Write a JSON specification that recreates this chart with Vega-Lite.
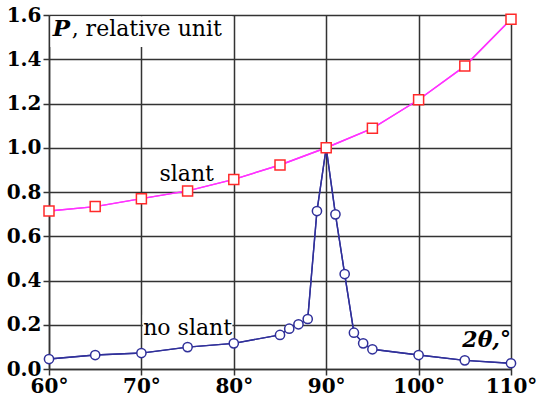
{
  "$schema": "https://vega.github.io/schema/vega-lite/v6.json",
  "width": 462,
  "height": 354,
  "autosize": "none",
  "padding": {"left": 49, "top": 15, "right": 28, "bottom": 32},
  "background": "white",
  "config": {"view": {"stroke": null}, "font": "DejaVu Serif"},
  "data": {
    "values": [
      {"series": "no slant", "angle": 60, "P": 0.045},
      {"series": "no slant", "angle": 65, "P": 0.063},
      {"series": "no slant", "angle": 70, "P": 0.072},
      {"series": "no slant", "angle": 75, "P": 0.099},
      {"series": "no slant", "angle": 80, "P": 0.116},
      {"series": "no slant", "angle": 85, "P": 0.154},
      {"series": "no slant", "angle": 86, "P": 0.182},
      {"series": "no slant", "angle": 87, "P": 0.202},
      {"series": "no slant", "angle": 88, "P": 0.226},
      {"series": "no slant", "angle": 89, "P": 0.714},
      {"series": "no slant", "angle": 90, "P": 1.0},
      {"series": "no slant", "angle": 91, "P": 0.699},
      {"series": "no slant", "angle": 92, "P": 0.429},
      {"series": "no slant", "angle": 93, "P": 0.164},
      {"series": "no slant", "angle": 94, "P": 0.116},
      {"series": "no slant", "angle": 95, "P": 0.089},
      {"series": "no slant", "angle": 100, "P": 0.063},
      {"series": "no slant", "angle": 105, "P": 0.039},
      {"series": "no slant", "angle": 110, "P": 0.026},
      {"series": "slant", "angle": 60, "P": 0.714},
      {"series": "slant", "angle": 65, "P": 0.734},
      {"series": "slant", "angle": 70, "P": 0.77},
      {"series": "slant", "angle": 75, "P": 0.805},
      {"series": "slant", "angle": 80, "P": 0.857},
      {"series": "slant", "angle": 85, "P": 0.922},
      {"series": "slant", "angle": 90, "P": 1.0},
      {"series": "slant", "angle": 95, "P": 1.088},
      {"series": "slant", "angle": 100, "P": 1.217},
      {"series": "slant", "angle": 105, "P": 1.369},
      {"series": "slant", "angle": 110, "P": 1.581}
    ]
  },
  "layer": [
    {
      "mark": {"type": "line", "strokeWidth": 1.4},
      "encoding": {
        "x": {
          "field": "angle", "type": "quantitative",
          "scale": {"domain": [60, 110], "nice": false, "zero": false},
          "axis": {
            "title": null, "values": [60, 70, 80, 90, 100, 110],
            "labelExpr": "datum.value + '°'",
            "labelFont": "DejaVu Serif", "labelFontSize": 20, "labelFontWeight": "bold", "labelColor": "black",
            "labelFlush": false, "labelOverlap": false, "labelBound": false,
            "labelPadding": 1, "labelDx": 5,
            "grid": true, "gridColor": "#333333", "gridWidth": 1.5, "gridOpacity": 1,
            "domainColor": "#333333", "domainWidth": 1.5,
            "tickColor": "#333333", "tickWidth": 1.5, "tickSize": 6
          }
        },
        "y": {
          "field": "P", "type": "quantitative",
          "scale": {"domain": [0, 1.6], "nice": false},
          "axis": {
            "title": null, "values": [0, 0.2, 0.4, 0.6, 0.8, 1.0, 1.2, 1.4, 1.6],
            "format": ".1f",
            "labelFont": "DejaVu Serif", "labelFontSize": 20, "labelFontWeight": "bold", "labelColor": "black",
            "labelFlush": false, "labelOverlap": false, "labelBound": false,
            "labelPadding": 2,
            "grid": true, "gridColor": "#333333", "gridWidth": 1.5, "gridOpacity": 1,
            "domainColor": "#333333", "domainWidth": 1.5,
            "tickColor": "#333333", "tickWidth": 1.5, "tickSize": 6
          }
        },
        "color": {
          "field": "series", "type": "nominal",
          "scale": {"domain": ["no slant", "slant"], "range": ["#30309a", "#ff33ff"]},
          "legend": null
        }
      }
    },
    {
      "data": {"values": [{"box": "title"}]},
      "mark": {"type": "rect", "fill": "white"},
      "encoding": {
        "x": {"datum": 60.15, "type": "quantitative", "scale": {"domain": [60, 110], "nice": false, "zero": false}},
        "x2": {"datum": 79.85},
        "y": {"datum": 1.455, "type": "quantitative", "scale": {"domain": [0, 1.6], "nice": false}},
        "y2": {"datum": 1.594}
      }
    },
    {
      "data": {"values": [{"box": "no slant"}]},
      "mark": {"type": "rect", "fill": "white"},
      "encoding": {
        "x": {"datum": 70.15, "type": "quantitative", "scale": {"domain": [60, 110], "nice": false, "zero": false}},
        "x2": {"datum": 79.85},
        "y": {"datum": 0.17, "type": "quantitative", "scale": {"domain": [0, 1.6], "nice": false}},
        "y2": {"datum": 0.245}
      }
    },
    {
      "mark": {"type": "line", "strokeWidth": 1.4},
      "encoding": {
        "x": {"field": "angle", "type": "quantitative", "scale": {"domain": [60, 110], "nice": false, "zero": false}},
        "y": {"field": "P", "type": "quantitative", "scale": {"domain": [0, 1.6], "nice": false}},
        "color": {
          "field": "series", "type": "nominal",
          "scale": {"domain": ["no slant", "slant"], "range": ["#30309a", "#ff33ff"]},
          "legend": null
        }
      }
    },
    {
      "transform": [{"filter": "datum.series == 'no slant'"}],
      "mark": {"type": "point", "shape": "circle", "filled": true, "fill": "white", "stroke": "#30309a", "strokeWidth": 1.5, "size": 85, "opacity": 1},
      "encoding": {
        "x": {"field": "angle", "type": "quantitative", "scale": {"domain": [60, 110], "nice": false, "zero": false}},
        "y": {"field": "P", "type": "quantitative", "scale": {"domain": [0, 1.6], "nice": false}}
      }
    },
    {
      "transform": [{"filter": "datum.series == 'slant'"}],
      "mark": {"type": "point", "shape": "square", "filled": true, "fill": "white", "stroke": "#ff2a2a", "strokeWidth": 1.5, "size": 100, "opacity": 1},
      "encoding": {
        "x": {"field": "angle", "type": "quantitative", "scale": {"domain": [60, 110], "nice": false, "zero": false}},
        "y": {"field": "P", "type": "quantitative", "scale": {"domain": [0, 1.6], "nice": false}}
      }
    },
    {
      "data": {"values": [{"label": "P"}]},
      "mark": {"type": "text", "text": "P", "font": "DejaVu Serif", "fontSize": 23, "fontWeight": "bold", "fontStyle": "italic", "align": "left", "baseline": "alphabetic", "color": "black"},
      "encoding": {
        "x": {"datum": 60.4, "type": "quantitative", "scale": {"domain": [60, 110], "nice": false, "zero": false}},
        "y": {"datum": 1.505, "type": "quantitative", "scale": {"domain": [0, 1.6], "nice": false}}
      }
    },
    {
      "data": {"values": [{"label": "rest"}]},
      "mark": {"type": "text", "text": ", relative unit", "font": "DejaVu Serif", "fontSize": 22, "align": "left", "baseline": "alphabetic", "color": "black"},
      "encoding": {
        "x": {"datum": 62.45, "type": "quantitative", "scale": {"domain": [60, 110], "nice": false, "zero": false}},
        "y": {"datum": 1.505, "type": "quantitative", "scale": {"domain": [0, 1.6], "nice": false}}
      }
    },
    {
      "data": {"values": [{"label": "slant"}]},
      "mark": {"type": "text", "text": "slant", "font": "DejaVu Serif", "fontSize": 22, "align": "center", "baseline": "alphabetic", "color": "black"},
      "encoding": {
        "x": {"datum": 74.9, "type": "quantitative", "scale": {"domain": [60, 110], "nice": false, "zero": false}},
        "y": {"datum": 0.851, "type": "quantitative", "scale": {"domain": [0, 1.6], "nice": false}}
      }
    },
    {
      "data": {"values": [{"label": "no slant"}]},
      "mark": {"type": "text", "text": "no slant", "font": "DejaVu Serif", "fontSize": 22, "align": "center", "baseline": "alphabetic", "color": "black"},
      "encoding": {
        "x": {"datum": 75.0, "type": "quantitative", "scale": {"domain": [60, 110], "nice": false, "zero": false}},
        "y": {"datum": 0.154, "type": "quantitative", "scale": {"domain": [0, 1.6], "nice": false}}
      }
    },
    {
      "data": {"values": [{"label": "2θ,°"}]},
      "mark": {"type": "text", "text": "2θ,°", "font": "DejaVu Serif", "fontSize": 22, "fontWeight": "bold", "fontStyle": "italic", "align": "right", "baseline": "alphabetic", "color": "black"},
      "encoding": {
        "x": {"datum": 110, "type": "quantitative", "scale": {"domain": [60, 110], "nice": false, "zero": false}},
        "y": {"datum": 0.1, "type": "quantitative", "scale": {"domain": [0, 1.6], "nice": false}}
      }
    }
  ]
}
